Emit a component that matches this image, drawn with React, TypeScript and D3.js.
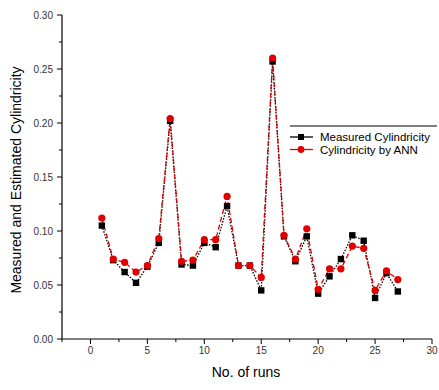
import React from 'react';
import * as d3 from 'd3';

const runs = [1, 2, 3, 4, 5, 6, 7, 8, 9, 10, 11, 12, 13, 14, 15, 16, 17, 18, 19, 20, 21, 22, 23, 24, 25, 26, 27];
const measured = [0.105, 0.073, 0.062, 0.052, 0.067, 0.089, 0.202, 0.069, 0.068, 0.089, 0.085, 0.123, 0.068, 0.068, 0.045, 0.257, 0.095, 0.072, 0.095, 0.042, 0.058, 0.074, 0.096, 0.091, 0.038, 0.061, 0.044];
const ann = [0.112, 0.074, 0.071, 0.062, 0.068, 0.093, 0.204, 0.072, 0.073, 0.092, 0.092, 0.132, 0.068, 0.068, 0.057, 0.260, 0.096, 0.074, 0.102, 0.046, 0.065, 0.065, 0.086, 0.084, 0.045, 0.063, 0.055];
const xTicks = [0, 5, 10, 15, 20, 25, 30];
const yTicks = [0, 0.05, 0.1, 0.15, 0.2, 0.25, 0.3];

const W = 439;
const H = 390;

export default function App() {
  const x = d3.scaleLinear().domain([-2.5, 30]).range([62, 432]);
  const y = d3.scaleLinear().domain([0, 0.3]).range([339, 15]);

  const line = d3.line<number>()
    .x((d, i) => x(runs[i]))
    .y(d => y(d));

  const xMinor = d3.range(-2.5, 30.01, 2.5).filter(v => Math.abs(v % 5) > 0.01);
  const yMinor = d3.range(0.025, 0.3, 0.05);
  const font = 'Arial, "Liberation Sans", sans-serif';

  return (
    <svg width={W} height={H} style={{ position: 'absolute', left: 0, top: 0, background: '#fff' }} fontFamily={font}>
      {/* axes */}
      <line x1={x(-2.5)} x2={x(30)} y1={y(0)} y2={y(0)} stroke="#000" strokeWidth={1.2} />
      <line x1={x(-2.5)} x2={x(-2.5)} y1={y(0)} y2={y(0.3)} stroke="#000" strokeWidth={1.2} />
      {xTicks.map(t => (
        <g key={'xt' + t}>
          <line x1={x(t)} x2={x(t)} y1={y(0)} y2={y(0) + 5} stroke="#000" />
          <text x={x(t)} y={y(0) + 15} fontSize={10} textAnchor="middle" fill="#333">{t}</text>
        </g>
      ))}
      {xMinor.map(t => (
        <line key={'xm' + t} x1={x(t)} x2={x(t)} y1={y(0)} y2={y(0) + 3} stroke="#000" />
      ))}
      {yTicks.map(t => (
        <g key={'yt' + t}>
          <line x1={x(-2.5) - 5} x2={x(-2.5)} y1={y(t)} y2={y(t)} stroke="#000" />
          <text x={x(-2.5) - 9} y={y(t) + 3.5} fontSize={10} textAnchor="end" fill="#333">{t.toFixed(2)}</text>
        </g>
      ))}
      {yMinor.map(t => (
        <line key={'ym' + t} x1={x(-2.5) - 3} x2={x(-2.5)} y1={y(t)} y2={y(t)} stroke="#000" />
      ))}

      {/* axis titles */}
      <text x={246} y={377} fontSize={14} textAnchor="middle">No. of runs</text>
      <text transform={`translate(21,180) rotate(-90)`} fontSize={14} textAnchor="middle">Measured and Estimated Cylindricity</text>

      {/* series */}
      <path d={line(measured) || ''} fill="none" stroke="#000" strokeWidth={1.3} strokeDasharray="1.5,1.5" />
      <path d={line(ann) || ''} fill="none" stroke="#e00000" strokeWidth={1.3} strokeDasharray="5,3" />
      {measured.map((v, i) => (
        <rect key={'m' + i} x={x(runs[i]) - 3.2} y={y(v) - 3.2} width={6.4} height={6.4} fill="#000" />
      ))}
      {ann.map((v, i) => (
        <circle key={'a' + i} cx={x(runs[i])} cy={y(v)} r={3.6} fill="#e00000" />
      ))}

      {/* legend */}
      <line x1={290} x2={437} y1={126} y2={126} stroke="#000" strokeWidth={1} />
      <line x1={290} x2={313} y1={137} y2={137} stroke="#000" strokeWidth={1.3} />
      <rect x={298} y={134} width={6} height={6} fill="#000" />
      <text x={320} y={141} fontSize={11.5}>Measured Cylindricity</text>
      <line x1={290} x2={313} y1={149.5} y2={149.5} stroke="#e00000" strokeWidth={1.3} />
      <circle cx={301} cy={149.5} r={3.4} fill="#e00000" />
      <text x={320} y={153.5} fontSize={11.5}>Cylindricity by ANN</text>
    </svg>
  );
}
